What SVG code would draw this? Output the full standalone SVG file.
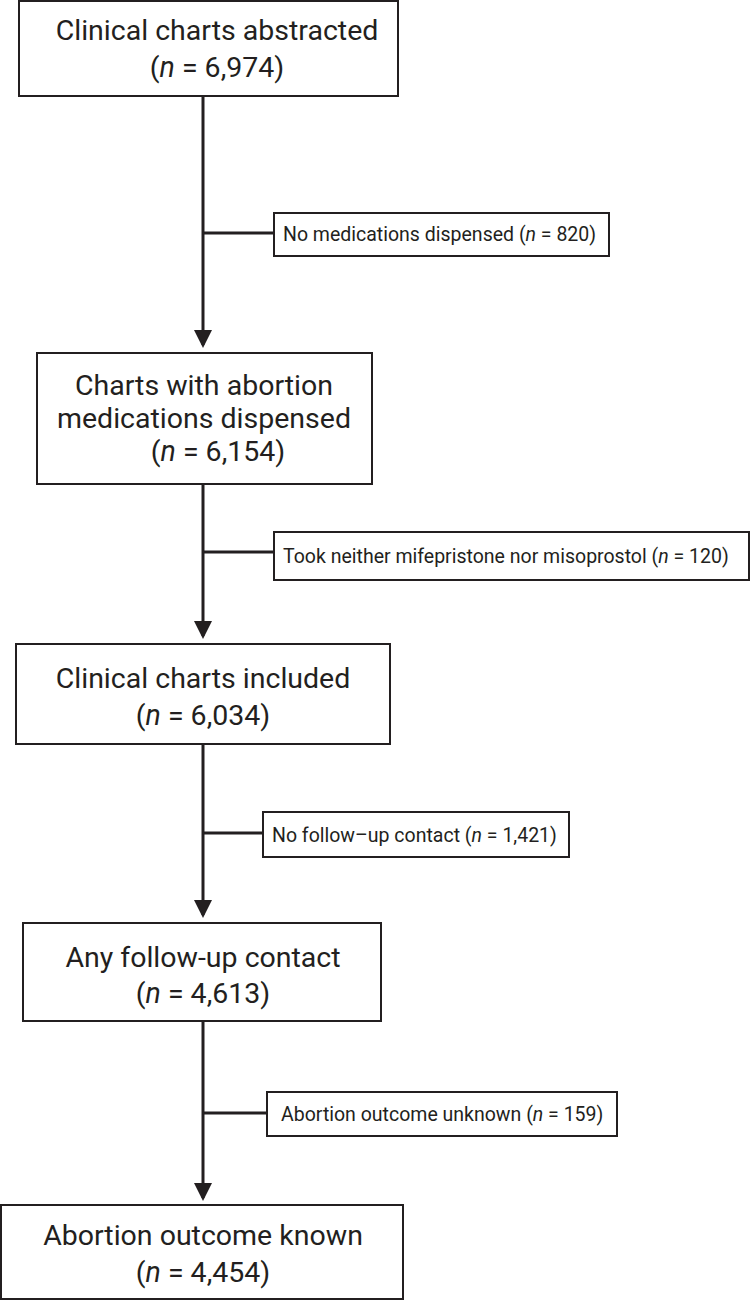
<svg xmlns="http://www.w3.org/2000/svg" width="751" height="1301" viewBox="0 0 751 1301">
<style>
.box{fill:#fff;stroke:#231f20;stroke-width:2}
.big{font-family:Roboto,"Liberation Sans",sans-serif;font-size:28.5px;fill:#231f20;text-anchor:middle}
.sm{font-family:Roboto,"Liberation Sans",sans-serif;font-size:19.5px;fill:#231f20}
.ln{stroke:#231f20;stroke-width:3;fill:none}
</style>
<defs><marker id="ah" markerWidth="6" markerHeight="6" refX="5" refY="3" orient="auto" markerUnits="strokeWidth"><path d="M0,0 L6,3 L0,6 Z" fill="#231f20"/></marker></defs>
<rect width="751" height="1301" fill="#fff"/>
<g id="connectors">
<line class="ln" x1="203" y1="96" x2="203" y2="345" marker-end="url(#ah)"/>
<line class="ln" x1="203" y1="233" x2="274" y2="233"/>
<line class="ln" x1="203" y1="484" x2="203" y2="636" marker-end="url(#ah)"/>
<line class="ln" x1="203" y1="552" x2="274" y2="552"/>
<line class="ln" x1="203" y1="744" x2="203" y2="915" marker-end="url(#ah)"/>
<line class="ln" x1="203" y1="833" x2="263" y2="833"/>
<line class="ln" x1="203" y1="1021" x2="203" y2="1198" marker-end="url(#ah)"/>
<line class="ln" x1="203" y1="1113" x2="267" y2="1113"/>
</g>
<g id="n1"><rect class="box" x="19" y="1" width="379" height="95"/><text class="big" x="217" y="40">Clinical charts abstracted</text><text class="big" x="217" y="77">(<tspan font-style="italic">n</tspan> = 6,974)</text></g>
<g id="s1"><rect class="box" x="274" y="213" width="335" height="43"/><text class="sm" x="283" y="241">No medications dispensed (<tspan font-style="italic">n</tspan> = 820)</text></g>
<g id="n2"><rect class="box" x="37" y="353" width="335" height="131"/><text class="big" x="204" y="395">Charts with abortion</text><text class="big" x="204" y="428">medications dispensed</text><text class="big" x="218" y="461">(<tspan font-style="italic">n</tspan> = 6,154)</text></g>
<g id="s2"><rect class="box" x="274" y="532" width="475" height="48"/><text class="sm" x="283" y="563">Took neither mifepristone nor misoprostol (<tspan font-style="italic">n</tspan> = 120)</text></g>
<g id="n3"><rect class="box" x="16" y="644" width="374" height="100"/><text class="big" x="203" y="688">Clinical charts included</text><text class="big" x="203" y="725">(<tspan font-style="italic">n</tspan> = 6,034)</text></g>
<g id="s3"><rect class="box" x="263" y="812" width="306" height="45"/><text class="sm" x="272" y="842">No follow–up contact (<tspan font-style="italic">n</tspan> = 1,421)</text></g>
<g id="n4"><rect class="box" x="23" y="923" width="358" height="98"/><text class="big" x="203" y="967">Any follow-up contact</text><text class="big" x="203" y="1003">(<tspan font-style="italic">n</tspan> = 4,613)</text></g>
<g id="s4"><rect class="box" x="267" y="1092" width="350" height="44"/><text class="sm" x="281" y="1121">Abortion outcome unknown (<tspan font-style="italic">n</tspan> = 159)</text></g>
<g id="n5"><rect class="box" x="1" y="1205" width="402" height="94"/><text class="big" x="203" y="1245">Abortion outcome known</text><text class="big" x="203" y="1282">(<tspan font-style="italic">n</tspan> = 4,454)</text></g>
</svg>
